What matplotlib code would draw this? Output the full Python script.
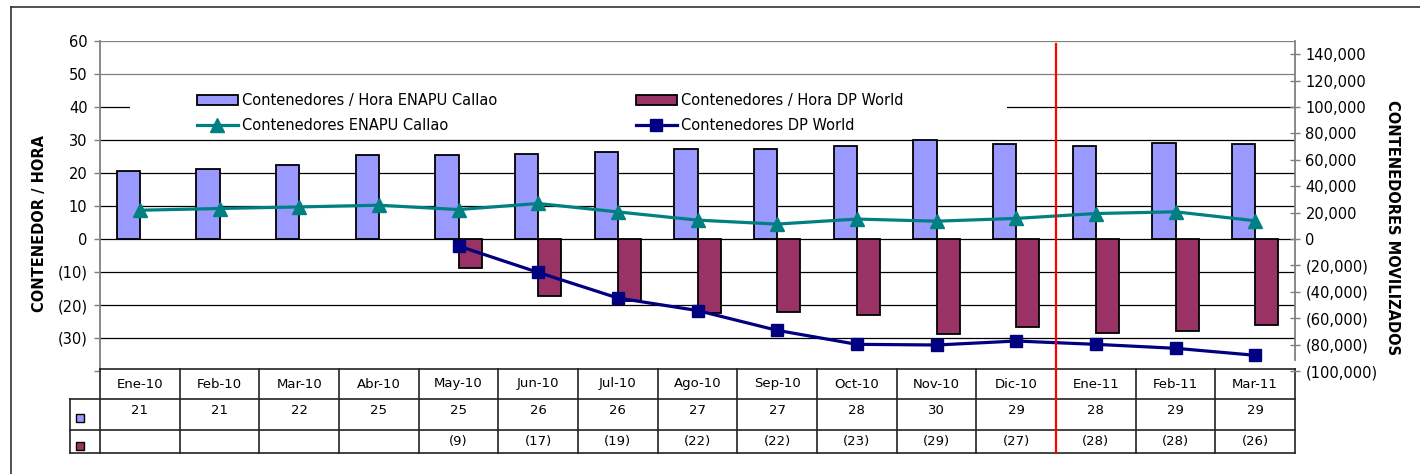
# ========================
# IMPORT LIBRARIES
# ========================
import numpy as np
import matplotlib
matplotlib.use("Agg")
import matplotlib.pyplot as plt
from matplotlib.ticker import FuncFormatter
from matplotlib.patches import Rectangle
from matplotlib.lines import Line2D
from matplotlib.transforms import blended_transform_factory


# ========================
# DATA
# ========================
meses = ["Ene-10", "Feb-10", "Mar-10", "Abr-10", "May-10", "Jun-10", "Jul-10", "Ago-10",
         "Sep-10", "Oct-10", "Nov-10", "Dic-10", "Ene-11", "Feb-11", "Mar-11"]

# contenedores / hora (eje izquierdo)
hora_enapu = [20.6, 21.2, 22.4, 25.4, 25.4, 25.8, 26.4, 27.4, 27.4, 28.2, 29.9, 28.9, 28.3, 29.1, 28.9]
hora_dpw = [np.nan, np.nan, np.nan, np.nan, -8.8, -17.3, -18.7, -22.3, -22.1, -23.1, -28.7, -26.8,
            -28.6, -27.9, -26.2]

# contenedores movilizados (eje derecho)
cont_enapu = [21800, 23100, 24300, 25600, 22300, 26900, 20500, 14300, 11300, 15100, 13500, 15600,
              19300, 20600, 13800]
cont_dpw = [np.nan, np.nan, np.nan, np.nan, -5300, -25300, -44700, -54200, -69200, -79800, -80300,
            -77300, -79800, -82800, -88100]

# tabla de datos
tabla_enapu = ["21", "21", "22", "25", "25", "26", "26", "27", "27", "28", "30", "29", "28", "29", "29"]
tabla_dpw = ["", "", "", "", "(9)", "(17)", "(19)", "(22)", "(22)", "(23)", "(29)", "(27)", "(28)",
             "(28)", "(26)"]

nombres = ["Contenedores / Hora ENAPU Callao", "Contenedores / Hora DP World",
           "Contenedores ENAPU Callao", "Contenedores DP World"]

c_enapu_bar = "#9999FF"
c_dpw_bar = "#993366"
c_enapu_line = "#008080"
c_dpw_line = "#000080"


# ========================
# FIGURE / LAYOUT (pixels)
# ========================
W, H = 1420, 474
fig = plt.figure(figsize=(W / 100, H / 100), dpi=100)


def fx(px):
    return px / W


def fy(py):
    return 1 - py / H


ax_l, ax_r, ax_t, ax_b = 100, 1295, 41, 371
ax = fig.add_axes([fx(ax_l), fy(ax_b), fx(ax_r) - fx(ax_l), fy(ax_t) - fy(ax_b)])

x = np.arange(len(meses))
w = 0.29

ax.set_xlim(-0.5, len(meses) - 0.5)
ax.set_ylim(-40, 60)

# gridlines
for v in range(-30, 61, 10):
    col = "#808080" if v >= 50 else "black"
    ax.axhline(v, color=col, lw=0.9, zorder=0.5)

# white box behind legend
ax.add_patch(Rectangle((fx(130), fy(136)), fx(1007) - fx(130), fy(84) - fy(136),
                       transform=fig.transFigure, facecolor="white", edgecolor="none",
                       zorder=1, clip_on=False))

b1 = ax.bar(x - w / 2, hora_enapu, width=w, color=c_enapu_bar, edgecolor="black", lw=1.3, zorder=2)
b2 = ax.bar(x + w / 2, hora_dpw, width=w, color=c_dpw_bar, edgecolor="black", lw=1.3, zorder=2)


def fmt_izq(v, pos):
    if v <= -40:
        return ""
    if v < 0:
        return f"({-v:.0f})"
    return f"{v:.0f}"


def fmt_der(v, pos):
    if v < 0:
        return f"({-v:,.0f})"
    return f"{v:,.0f}"


ax.set_yticks(range(-40, 61, 10))
ax.yaxis.set_major_formatter(FuncFormatter(fmt_izq))
ax.tick_params(axis="y", labelsize=10.5, length=4, width=1, color="#808080", pad=5)
ax.tick_params(axis="x", bottom=False, labelbottom=False)
for s in ["top", "bottom", "right"]:
    ax.spines[s].set_visible(False)
ax.spines["left"].set_color("#808080")
ax.spines["left"].set_linewidth(1.3)

# ========================
# SECONDARY AXIS
# ========================
ax2 = ax.twinx()
ax2.set_ylim(-100000, 150000)
l1, = ax2.plot(x, cont_enapu, color=c_enapu_line, lw=2.3, marker="^", ms=10, zorder=3)
l2, = ax2.plot(x, cont_dpw, color=c_dpw_line, lw=2.3, marker="s", ms=9, zorder=3)
ax2.set_yticks(range(-100000, 140001, 20000))
ax2.yaxis.set_major_formatter(FuncFormatter(fmt_der))
ax2.tick_params(axis="y", labelsize=10.5, direction="inout", length=7, width=1, color="#808080", pad=4)
for s in ["top", "bottom", "left"]:
    ax2.spines[s].set_visible(False)
ax2.spines["right"].set_color("#808080")
ax2.spines["right"].set_linewidth(1.3)
ax2.spines["right"].set_bounds(-92000, 150000)

# red separator line
trans_ya = blended_transform_factory(ax2.transData, ax2.transAxes)
ax2.plot([11.5, 11.5], [(ax_b - 44) / (ax_b - ax_t), (ax_b - 453) / (ax_b - ax_t)],
         transform=trans_ya, color="red", lw=1.6, clip_on=False, zorder=6)

# ========================
# LEGEND
# ========================
leg_kw = dict(loc="upper left", frameon=False, borderpad=0, borderaxespad=0, fontsize=10.5,
              handlelength=2.8, handletextpad=0.3, labelspacing=0.72)
fig.legend([b1, l1], [nombres[0], nombres[2]], bbox_to_anchor=(fx(197), fy(93)), **leg_kw)
fig.legend([b2, l2], [nombres[1], nombres[3]], bbox_to_anchor=(fx(636), fy(93)), **leg_kw)

# ========================
# AXIS LABELS
# ========================
fig.text(fx(40), fy(223), "CONTENEDOR / HORA", rotation=90, ha="center", va="center",
         fontsize=10.5, fontweight="bold")
fig.text(fx(1393), fy(228), "CONTENEDORES MOVILIZADOS", rotation=270, ha="center", va="center",
         fontsize=10.5, fontweight="bold")

# ========================
# DATA TABLE
# ========================
tr = blended_transform_factory(ax.transData, fig.transFigure)
px_cat = (ax_r - ax_l) / len(meses)
x_izq = -0.5 - 30 / px_cat
x_fin = len(meses) - 0.5
filas = [369, 399, 430, 453]
lk = dict(transform=tr, color="#222222", lw=1.2, clip_on=False, zorder=5)

ax.plot([-0.5, x_fin], [fy(filas[0])] * 2, **lk)
for py in filas[1:]:
    ax.plot([x_izq, x_fin], [fy(py)] * 2, **lk)
ax.plot([x_izq, x_izq], [fy(filas[1]), fy(filas[3])], **lk)
for i in range(len(meses) + 1):
    ax.plot([i - 0.5, i - 0.5], [fy(filas[0]), fy(filas[3])], **lk)

for i in range(len(meses)):
    ax.text(x[i], fy(384), meses[i], transform=tr, ha="center", va="center", fontsize=9.5, clip_on=False)
    ax.text(x[i], fy(411), tabla_enapu[i], transform=tr, ha="center", va="center", fontsize=9.5, clip_on=False)
    ax.text(x[i], fy(441), tabla_dpw[i], transform=tr, ha="center", va="center", fontsize=9.5, clip_on=False)

for py, col in [(418, c_enapu_bar), (446, c_dpw_bar)]:
    fig.add_artist(Rectangle((fx(76), fy(py + 4)), fx(8), 8 / H, transform=fig.transFigure,
                             facecolor=col, edgecolor="black", lw=1.0))

# ========================
# OUTER FRAME
# ========================
fig.add_artist(Line2D([fx(10.5), 1.05], [fy(6.5), fy(6.5)], transform=fig.transFigure, color="#333333", lw=1.2))
fig.add_artist(Line2D([fx(10.5), fx(10.5)], [fy(6.5), -0.05], transform=fig.transFigure, color="#333333", lw=1.2))

fig.savefig("out.png", dpi=100)
